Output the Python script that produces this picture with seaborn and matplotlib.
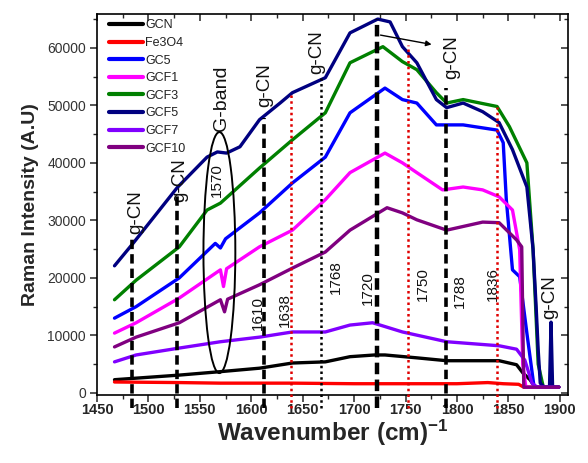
import numpy as np
import pandas as pd
import seaborn as sns
import matplotlib
matplotlib.use("Agg")
import matplotlib.pyplot as plt
from matplotlib.patches import Ellipse

# ---------------- data ----------------
series_names = ["GCN", "Fe3O4", "GC5", "GCF1", "GCF3", "GCF5", "GCF7", "GCF10"]
series_colors = ["#000000", "#ff0000", "#0000ff", "#ff00ff", "#008000", "#000080", "#8000ff", "#800080"]

gcn_x = [1467, 1530, 1570, 1608, 1640, 1672, 1696, 1720, 1730, 1761, 1790, 1841, 1858, 1864, 1871, 1876, 1899]
gcn_y = [2300, 3100, 3700, 4300, 5200, 5400, 6300, 6600, 6600, 6100, 5600, 5600, 4900, 3500, 2300, 1000, 1000]

fe_x = [1467, 1530, 1570, 1640, 1700, 1760, 1800, 1830, 1845, 1860, 1865, 1899]
fe_y = [1900, 1800, 1700, 1700, 1600, 1600, 1600, 1800, 1600, 1500, 1000, 1000]

gc5_x = [1467, 1488, 1530, 1565, 1570, 1575, 1608, 1640, 1672, 1696, 1730, 1747, 1761, 1780, 1806, 1839, 1845,
         1848, 1854, 1861, 1868, 1875, 1899]
gc5_y = [13000, 15000, 20000, 26000, 25200, 26800, 31300, 36500, 41000, 48700, 53000, 51000, 50400, 46600, 46600,
         45700, 43500, 33600, 21400, 20200, 10400, 1000, 1000]

gcf1_x = [1467, 1488, 1530, 1570, 1573, 1576, 1608, 1640, 1672, 1696, 1730, 1747, 1761, 1786, 1806, 1825, 1841,
          1854, 1861, 1864, 1867, 1899]
gcf1_y = [10400, 12200, 16500, 21400, 18500, 21600, 25400, 28300, 33600, 38300, 41700, 40000, 38300, 35300, 35800,
          35300, 34100, 31800, 24900, 5000, 1000, 1000]

gcf3_x = [1467, 1488, 1530, 1557, 1570, 1608, 1640, 1672, 1696, 1728, 1747, 1761, 1780, 1790, 1806, 1839, 1851,
          1868, 1874, 1879, 1884, 1899]
gcf3_y = [16200, 19600, 25400, 31800, 33000, 39100, 44000, 48700, 57400, 60200, 57600, 56200, 52200, 50400, 51000,
          49800, 46300, 40000, 25000, 5000, 1000, 1000]

gcf5_x = [1467, 1485, 1528, 1557, 1567, 1576, 1589, 1608, 1628, 1640, 1672, 1696, 1723, 1735, 1747, 1761, 1780,
          1790, 1806, 1825, 1841, 1854, 1868, 1874, 1877, 1879, 1881, 1885, 1890, 1891.5, 1893, 1899]
gcf5_y = [22100, 26000, 35700, 41000, 41900, 41700, 42800, 47500, 50400, 52200, 54800, 62600, 65000, 64500, 60200,
          57400, 51000, 49600, 50400, 48900, 47000, 42300, 35800, 25000, 15000, 7500, 1700, 1000, 1000, 12300, 1000,
          1000]

gcf7_x = [1467, 1488, 1530, 1570, 1608, 1640, 1672, 1696, 1718, 1747, 1790, 1841, 1858, 1866, 1873, 1878, 1899]
gcf7_y = [5400, 6600, 7800, 8900, 9700, 10600, 10600, 11800, 12200, 10600, 8900, 8200, 7600, 5700, 1700, 1000, 1000]

gcf10_x = [1467, 1488, 1530, 1570, 1574, 1577, 1608, 1640, 1672, 1696, 1732, 1747, 1761, 1790, 1825, 1841, 1858,
           1863, 1865, 1899]
gcf10_y = [8000, 9700, 12200, 16200, 14100, 16300, 18800, 21700, 24500, 28300, 32200, 31300, 30100, 28300, 29700,
           29600, 26600, 25400, 1000, 1000]

all_x = [gcn_x, fe_x, gc5_x, gcf1_x, gcf3_x, gcf5_x, gcf7_x, gcf10_x]
all_y = [gcn_y, fe_y, gc5_y, gcf1_y, gcf3_y, gcf5_y, gcf7_y, gcf10_y]

# reference lines: position, top value, style
black_dashed_x = [1484, 1528, 1612, 1789]
black_dashed_top = [27100, 34300, 47800, 53000]
peak_line_x = [1722]
peak_line_top = [65000]
black_dotted_x = [1668]
black_dotted_top = [54800]
red_dotted_x = [1638.5, 1752, 1839]
red_dotted_top = [52300, 60500, 49700]

gcn_labels_xy = [(1488, 31500), (1530, 37000), (1613, 53600), (1664, 59300), (1795, 58300), (1890, 16700)]
num_labels = ["1610", "1638", "1768", "1720", "1750", "1788", "1836"]
num_labels_xy = [(1606, 13900), (1633, 14400), (1682, 20200), (1713, 18300), (1767, 19000), (1803, 17700),
                 (1835, 19000)]

# ---------------- plotting ----------------
sns.set_theme(style="white")
plt.rcParams["font.family"] = ["Liberation Sans", "DejaVu Sans"]
plt.rcParams["mathtext.fontset"] = "custom"
plt.rcParams["mathtext.bf"] = "Liberation Sans:bold"
plt.rcParams["mathtext.rm"] = "Liberation Sans:bold"
plt.rcParams["mathtext.default"] = "bf"

rows = []
for name, xs, ys in zip(series_names, all_x, all_y):
    for i, (xv, yv) in enumerate(zip(xs, ys)):
        rows.append({"series": name, "order": i, "x": xv, "y": yv})
df = pd.DataFrame(rows)

fig = plt.figure(figsize=(5.88, 4.63), dpi=100)
ax = fig.add_axes([0.165, 0.147, 0.801, 0.823])

sns.lineplot(data=df, x="x", y="y", hue="series", hue_order=series_names,
             palette=dict(zip(series_names, series_colors)), units="series", estimator=None,
             sort=False, linewidth=2.4, ax=ax, legend=False)

ylow = -2600
for xv, top in zip(black_dashed_x, black_dashed_top):
    ax.plot([xv, xv], [ylow, top], color="black", lw=2.6, linestyle=(0, (2.6, 1.4)), clip_on=False, zorder=5)
for xv, top in zip(peak_line_x, peak_line_top):
    ax.plot([xv, xv], [ylow, top], color="black", lw=3.2, linestyle=(0, (2.6, 1.2)), clip_on=False, zorder=5)
for xv, top in zip(black_dotted_x, black_dotted_top):
    ax.plot([xv, xv], [ylow, top], color="black", lw=1.8, linestyle=(0, (1, 1.3)), clip_on=False, zorder=5)
for xv, top in zip(red_dotted_x, red_dotted_top):
    ax.plot([xv, xv], [ylow, top], color="#e00000", lw=1.8, linestyle=(0, (1, 1.3)), clip_on=False, zorder=5)

ax.add_patch(Ellipse((1569, 24400), width=31, height=41900, fill=False, edgecolor="black", lw=1.4, zorder=6))

for (xv, yv) in gcn_labels_xy:
    ax.text(xv, yv, "g-CN", rotation=90, ha="center", va="center", fontsize=13.5, color="#111111")
ax.text(1571, 51300, "G-band", rotation=90, ha="center", va="center", fontsize=14, color="#111111")
ax.text(1567, 37000, "1570", rotation=90, ha="center", va="center", fontsize=11, color="#111111")
for lab, (xv, yv) in zip(num_labels, num_labels_xy):
    ax.text(xv, yv, lab, rotation=90, ha="center", va="center", fontsize=11, color="#111111")

ax.annotate("", xy=(1778, 60500), xytext=(1723, 62300),
            arrowprops=dict(arrowstyle="-|>", lw=1.0, color="black", mutation_scale=8), zorder=7)

ax.set_xlim(1450, 1908)
ax.set_ylim(-350, 65900)
ax.set_xticks(np.arange(1450, 1901, 50))
ax.set_xticks(np.arange(1450, 1908, 25), minor=True)
ax.set_yticks(np.arange(0, 60001, 10000))
ax.set_yticks(np.arange(0, 65900, 5000), minor=True)

ax.tick_params(axis="x", which="both", bottom=True, top=True, direction="out")
ax.tick_params(axis="y", which="both", left=True, right=True, direction="out")
ax.tick_params(which="major", length=5, width=1.1)
ax.tick_params(which="minor", length=3, width=1.0)
ax.tick_params(axis="x", labelsize=10.5, pad=0.5)
ax.tick_params(axis="y", labelsize=10, labelcolor="#333333", pad=3)
for lbl in ax.get_xticklabels():
    lbl.set_fontweight("bold")

for tick in ax.xaxis.get_major_ticks() + ax.xaxis.get_minor_ticks():
    tick.tick2line.set_marker(matplotlib.lines.TICKDOWN)
for tick in ax.yaxis.get_major_ticks() + ax.yaxis.get_minor_ticks():
    tick.tick2line.set_marker(matplotlib.lines.TICKLEFT)

for sp in ax.spines.values():
    sp.set_linewidth(1.2)
    sp.set_color("black")

ax.set_xlabel(r"Wavenumber (cm)$^{-1}$", fontsize=17.5, fontweight="bold", labelpad=1)
ax.set_ylabel("Raman Intensity (A.U)", fontsize=14, fontweight="bold", labelpad=6)

handles = [matplotlib.lines.Line2D([], [], color=c, lw=3) for c in series_colors]
leg = ax.legend(handles, series_names, loc="upper left", bbox_to_anchor=(0.005, 1.012), frameon=False,
                fontsize=9, handlelength=2.7, handletextpad=0.15, labelspacing=0.45, borderpad=0.3)
for t in leg.get_texts():
    t.set_color("#222222")

fig.savefig("out.png", dpi=100)
